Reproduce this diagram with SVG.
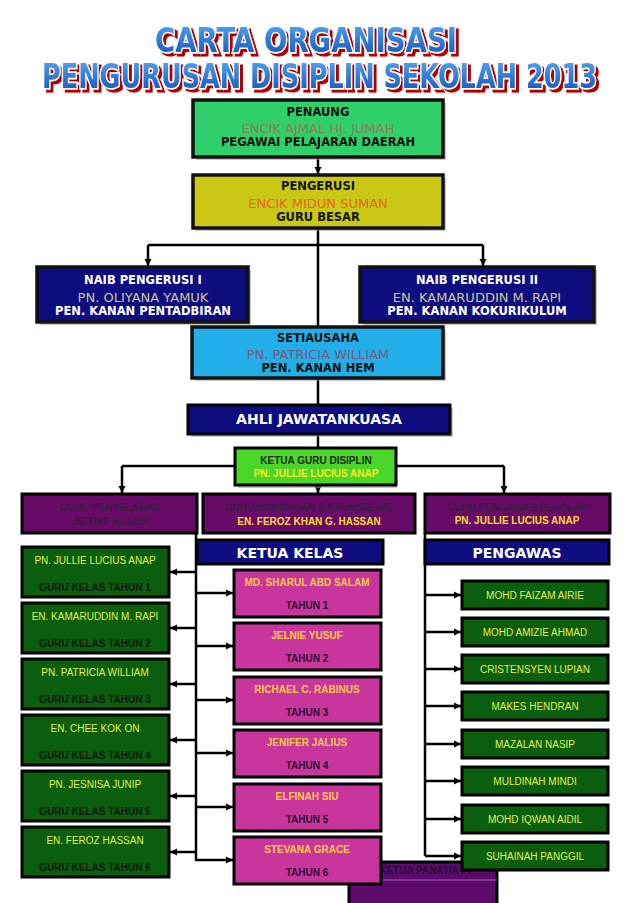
<svg xmlns="http://www.w3.org/2000/svg" width="638" height="903" viewBox="0 0 638 903">
<defs>
<linearGradient id="tg" x1="0" y1="0" x2="0" y2="1">
<stop offset="0" stop-color="#5aaaf5"/>
<stop offset="1" stop-color="#0b4fb5"/>
</linearGradient>
<filter id="tshadow" x="-5%" y="-20%" width="110%" height="150%">
<feDropShadow dx="3" dy="2.2" stdDeviation="0" flood-color="#b30000" flood-opacity="1"/>
</filter>
<marker id="ah" markerUnits="userSpaceOnUse" markerWidth="8" markerHeight="8" refX="7" refY="4" orient="auto">
<path d="M0,0.5 L7,4 L0,7.5 z" fill="#000"/>
</marker>
<style>
.sh{fill:#9a9a9a;opacity:.55}
.b{stroke:#000;stroke-width:3}
.bt{stroke:#111;stroke-width:3.5}
.hd{font-family:"DejaVu Sans",sans-serif;font-weight:bold;font-size:11.5px;text-anchor:middle}
.nm{font-family:"DejaVu Sans",sans-serif;font-size:13px;text-anchor:middle}
.sm{font-family:"Liberation Sans",Arial,sans-serif;font-size:10px;text-anchor:middle}
.smb{font-family:"Liberation Sans",Arial,sans-serif;font-weight:bold;font-size:10px;text-anchor:middle}
.cap{font-family:"DejaVu Sans",sans-serif;font-weight:bold;font-size:14px;text-anchor:middle;fill:#fff}
.ln{fill:none;stroke:#000;stroke-width:2.5}
.ar{fill:none;stroke:#000;stroke-width:2.5;marker-end:url(#ah)}
.title{font-family:"DejaVu Sans",sans-serif;font-weight:bold;fill:url(#tg);stroke:#fff;stroke-width:2.2;paint-order:stroke;filter:url(#tshadow)}
.lg{fill:#0b5e0e}
.lgt{fill:#e2f24a}
.pk{fill:#c8359c}
.pu{fill:#680a68}
.nv{fill:#0d0d80}
</style>
</defs>
<rect width="638" height="903" fill="#fff"/>

<g id="title">
<text class="title" transform="translate(155,52) scale(1,1.36)" x="0" y="0" font-size="25" textLength="302" lengthAdjust="spacingAndGlyphs">CARTA ORGANISASI</text>
<text class="title" transform="translate(42,88) scale(1,1.4)" x="0" y="0" font-size="23.5" textLength="555" lengthAdjust="spacingAndGlyphs">PENGURUSAN DISIPLIN SEKOLAH 2013</text>
</g>

<g id="connectors">
<path class="ar" d="M318,157 V174"/>
<path class="ln" d="M318,228 V327"/>
<path class="ln" d="M148,245 H483"/>
<path class="ar" d="M148,245 V266"/>
<path class="ar" d="M483,245 V266"/>
<path class="ln" d="M318,378 V405"/>
<path class="ln" d="M318,434 V448"/>
<path class="ln" d="M122,466 H504"/>
<path class="ar" d="M122,466 V493"/>
<path class="ar" d="M504,466 V493"/>
<path class="ar" d="M318,485 V493"/>
<path class="ln" d="M196,533 V861"/>
<path class="ln" d="M425,533 V856"/>
<path class="ar" d="M196,572 H170"/>
<path class="ar" d="M196,628 H170"/>
<path class="ar" d="M196,684 H170"/>
<path class="ar" d="M196,740 H170"/>
<path class="ar" d="M196,796 H170"/>
<path class="ar" d="M196,852 H170"/>
<path class="ar" d="M196,593 H233"/>
<path class="ar" d="M196,646 H233"/>
<path class="ar" d="M196,700 H233"/>
<path class="ar" d="M196,753 H233"/>
<path class="ar" d="M196,807 H233"/>
<path class="ar" d="M196,860 H233"/>
<path class="ar" d="M425,595 H461"/>
<path class="ar" d="M425,632 H461"/>
<path class="ar" d="M425,669 H461"/>
<path class="ar" d="M425,706 H461"/>
<path class="ar" d="M425,744 H461"/>
<path class="ar" d="M425,781 H461"/>
<path class="ar" d="M425,819 H461"/>
<path class="ar" d="M425,856 H461"/>
</g>

<g id="penaung">
<rect class="sh" x="196" y="103" width="250" height="57"/>
<rect class="bt" x="193" y="100" width="250" height="57" fill="#2fd06a"/>
<text class="hd" x="318" y="116" fill="#111">PENAUNG</text>
<text class="nm" x="318" y="133" fill="#8b7d55">ENCIK AJMAL HJ. JUMAH</text>
<text class="hd" x="318" y="146" fill="#111">PEGAWAI PELAJARAN DAERAH</text>
</g>

<g id="pengerusi">
<rect class="sh" x="196" y="178" width="250" height="53"/>
<rect class="bt" x="193" y="175" width="250" height="53" fill="#c9c915"/>
<text class="hd" x="318" y="190" fill="#111">PENGERUSI</text>
<text class="nm" x="318" y="208" fill="#e8641a">ENCIK MIDUN SUMAN</text>
<text class="hd" x="318" y="221" fill="#111">GURU BESAR</text>
</g>

<g id="naib1">
<rect class="sh" x="40" y="270" width="211" height="55"/>
<rect class="bt nv" x="37" y="267" width="211" height="55"/>
<text class="hd" x="143" y="284" fill="#fff">NAIB PENGERUSI I</text>
<text class="nm" x="143" y="302" fill="#cfc495">PN. OLIYANA YAMUK</text>
<text class="hd" x="143" y="315" fill="#fff">PEN. KANAN PENTADBIRAN</text>
</g>

<g id="naib2">
<rect class="sh" x="363" y="270" width="234" height="55"/>
<rect class="bt nv" x="360" y="267" width="234" height="55"/>
<text class="hd" x="477" y="284" fill="#fff">NAIB PENGERUSI II</text>
<text class="nm" x="477" y="302" fill="#cfc495">EN. KAMARUDDIN M. RAPI</text>
<text class="hd" x="477" y="315" fill="#fff">PEN. KANAN KOKURIKULUM</text>
</g>

<g id="setiausaha">
<rect class="sh" x="195" y="330" width="251" height="51"/>
<rect class="bt" x="192" y="327" width="251" height="51" fill="#22aee8"/>
<text class="hd" x="318" y="342" fill="#111">SETIAUSAHA</text>
<text class="nm" x="318" y="359" fill="#7a5a82">PN. PATRICIA WILLIAM</text>
<text class="hd" x="318" y="372" fill="#111">PEN. KANAN HEM</text>
</g>

<g id="ahli">
<rect class="sh" x="191" y="408" width="262" height="29"/>
<rect class="b nv" x="188" y="405" width="262" height="29"/>
<text class="cap" x="319" y="424">AHLI JAWATANKUASA</text>
</g>

<g id="ketua-guru-disiplin">
<rect class="sh" x="238" y="451" width="159" height="37"/>
<rect class="b" x="235" y="448" width="161" height="37" fill="#4cd62a"/>
<text class="smb" x="316" y="464" fill="#1a2a10">KETUA GURU DISIPLIN</text>
<text class="smb" x="316" y="477" fill="#ffee22">PN. JULLIE LUCIUS ANAP</text>
</g>

<g id="guru-penyelaras">
<rect class="b pu" x="22" y="494" width="175" height="39"/>
<text class="smb" x="110" y="511" fill="#3a1f3e">GURU PENYELARAS</text>
<text class="smb" x="110" y="525" fill="#3a1f3e">SETIAP KELAS</text>
</g>

<g id="guru-bimbingan">
<rect class="b pu" x="203" y="494" width="212" height="39"/>
<text class="smb" x="309" y="511" fill="#3a1f3e">GURU BIMBINGAN &amp; KAUNSELING</text>
<text class="smb" x="309" y="525" fill="#ffdd33">EN. FEROZ KHAN G. HASSAN</text>
</g>

<g id="guru-pengawas">
<rect class="b pu" x="425" y="494" width="185" height="39"/>
<text class="smb" x="517" y="511" fill="#3a1f3e">GURU PENGAWAS SEKOLAH</text>
<text class="smb" x="517" y="524" fill="#ffdd33">PN. JULLIE LUCIUS ANAP</text>
</g>

<g id="ketua-kelas">
<rect class="b nv" x="197" y="540" width="186" height="24"/>
<text class="cap" x="290" y="558">KETUA KELAS</text>
</g>

<g id="pengawas">
<rect class="b nv" x="425" y="540" width="184" height="24"/>
<text class="cap" x="517" y="558">PENGAWAS</text>
</g>

<g id="guru-kelas-1">
<rect class="b lg" x="22" y="547" width="147" height="50"/>
<text class="sm lgt" x="95" y="564">PN. JULLIE LUCIUS ANAP</text>
<text class="smb" x="95" y="591" fill="#0a1a0a">GURU KELAS TAHUN 1</text>
</g>
<g id="guru-kelas-2">
<rect class="b lg" x="22" y="603" width="147" height="50"/>
<text class="sm lgt" x="95" y="620">EN. KAMARUDDIN M. RAPI</text>
<text class="smb" x="95" y="647" fill="#0a1a0a">GURU KELAS TAHUN 2</text>
</g>
<g id="guru-kelas-3">
<rect class="b lg" x="22" y="659" width="147" height="50"/>
<text class="sm lgt" x="95" y="676">PN. PATRICIA WILLIAM</text>
<text class="smb" x="95" y="703" fill="#0a1a0a">GURU KELAS TAHUN 3</text>
</g>
<g id="guru-kelas-4">
<rect class="b lg" x="22" y="715" width="147" height="50"/>
<text class="sm lgt" x="95" y="732">EN. CHEE KOK ON</text>
<text class="smb" x="95" y="759" fill="#0a1a0a">GURU KELAS TAHUN 4</text>
</g>
<g id="guru-kelas-5">
<rect class="b lg" x="22" y="771" width="147" height="50"/>
<text class="sm lgt" x="95" y="788">PN. JESNISA JUNIP</text>
<text class="smb" x="95" y="815" fill="#0a1a0a">GURU KELAS TAHUN 5</text>
</g>
<g id="guru-kelas-6">
<rect class="b lg" x="22" y="827" width="147" height="50"/>
<text class="sm lgt" x="95" y="844">EN. FEROZ HASSAN</text>
<text class="smb" x="95" y="871" fill="#0a1a0a">GURU KELAS TAHUN 6</text>
</g>

<g id="ketua-panatia-pi">
<rect class="b" x="349" y="862" width="148" height="45" fill="#5c0a6c"/>
<line x1="349" y1="880" x2="497" y2="880" stroke="#a060b0" stroke-width="1"/>
<text class="smb" x="425" y="874" font-size="9" fill="#2a0a3a">KETUA PANATIA PI</text>
</g>

<g id="ketua-kelas-1">
<rect class="b pk" x="234" y="570" width="147" height="47"/>
<text class="smb" x="307" y="586" fill="#ffcc44">MD. SHARUL ABD SALAM</text>
<text class="smb" x="307" y="609" font-size="10.5" fill="#2a102a">TAHUN 1</text>
</g>
<g id="ketua-kelas-2">
<rect class="b pk" x="234" y="623" width="147" height="47"/>
<text class="smb" x="307" y="639" fill="#ffcc44">JELNIE YUSUF</text>
<text class="smb" x="307" y="662" font-size="10.5" fill="#2a102a">TAHUN 2</text>
</g>
<g id="ketua-kelas-3">
<rect class="b pk" x="234" y="677" width="147" height="47"/>
<text class="smb" x="307" y="693" fill="#ffcc44">RICHAEL C. RABINUS</text>
<text class="smb" x="307" y="716" font-size="10.5" fill="#2a102a">TAHUN 3</text>
</g>
<g id="ketua-kelas-4">
<rect class="b pk" x="234" y="730" width="147" height="47"/>
<text class="smb" x="307" y="746" fill="#ffcc44">JENIFER JALIUS</text>
<text class="smb" x="307" y="769" font-size="10.5" fill="#2a102a">TAHUN 4</text>
</g>
<g id="ketua-kelas-5">
<rect class="b pk" x="234" y="784" width="147" height="47"/>
<text class="smb" x="307" y="800" fill="#ffcc44">ELFINAH SIU</text>
<text class="smb" x="307" y="823" font-size="10.5" fill="#2a102a">TAHUN 5</text>
</g>
<g id="ketua-kelas-6">
<rect class="b pk" x="234" y="837" width="147" height="47"/>
<text class="smb" x="307" y="853" fill="#ffcc44">STEVANA GRACE</text>
<text class="smb" x="307" y="876" font-size="10.5" fill="#2a102a">TAHUN 6</text>
</g>

<g id="pengawas-1">
<rect class="b lg" x="462" y="581" width="146" height="28"/>
<text class="sm lgt" x="535" y="599">MOHD FAIZAM AIRIE</text>
</g>
<g id="pengawas-2">
<rect class="b lg" x="462" y="618" width="146" height="28"/>
<text class="sm lgt" x="535" y="636">MOHD AMIZIE AHMAD</text>
</g>
<g id="pengawas-3">
<rect class="b lg" x="462" y="655" width="146" height="28"/>
<text class="sm lgt" x="535" y="673">CRISTENSYEN LUPIAN</text>
</g>
<g id="pengawas-4">
<rect class="b lg" x="462" y="692" width="146" height="28"/>
<text class="sm lgt" x="535" y="710">MAKES HENDRAN</text>
</g>
<g id="pengawas-5">
<rect class="b lg" x="462" y="730" width="146" height="28"/>
<text class="sm lgt" x="535" y="748">MAZALAN NASIP</text>
</g>
<g id="pengawas-6">
<rect class="b lg" x="462" y="767" width="146" height="28"/>
<text class="sm lgt" x="535" y="785">MULDINAH MINDI</text>
</g>
<g id="pengawas-7">
<rect class="b lg" x="462" y="805" width="146" height="28"/>
<text class="sm lgt" x="535" y="823">MOHD IQWAN AIDIL</text>
</g>
<g id="pengawas-8">
<rect class="b lg" x="462" y="842" width="146" height="28"/>
<text class="sm lgt" x="535" y="860">SUHAINAH PANGGIL</text>
</g>
</svg>
